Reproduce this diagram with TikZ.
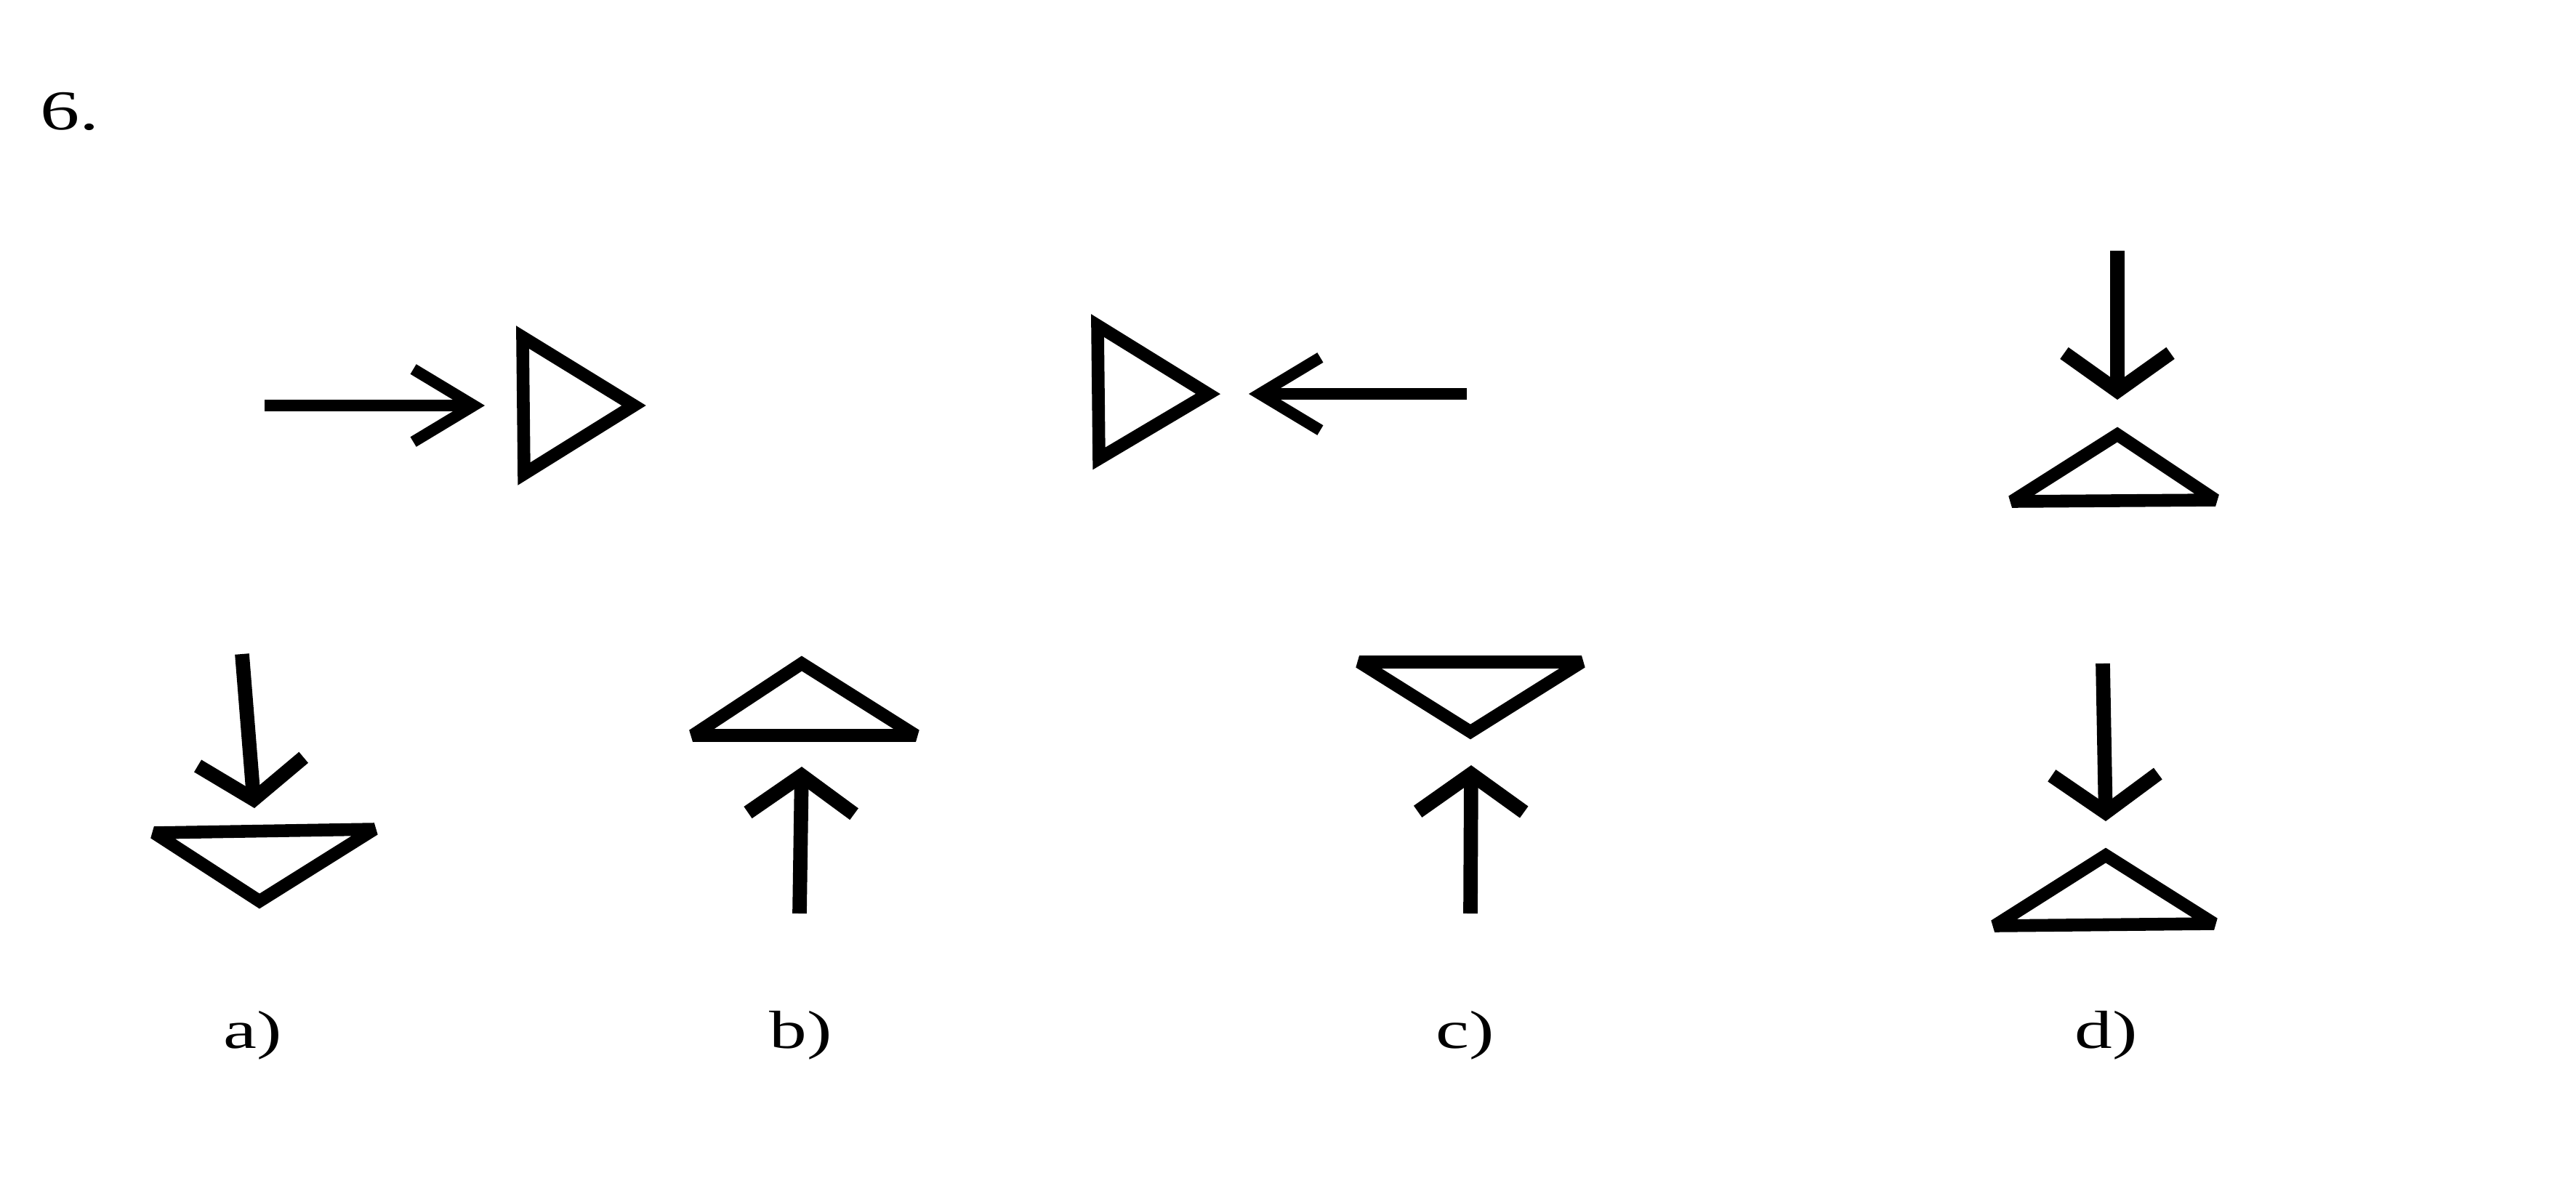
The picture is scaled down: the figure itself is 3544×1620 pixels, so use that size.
\documentclass[tikz,border=0pt]{standalone}
\usepackage{fontspec}
\setmainfont{Liberation Serif}
\usepackage{graphicx}
\usetikzlibrary{arrows.meta}

% the scan is stretched sideways, so is its lettering
\newcommand{\widetext}[1]{\scalebox{1.4}[1]{#1}}

\begin{document}
\begin{tikzpicture}[
    x=0.01cm, y=-0.01cm,
    tri/.style={draw=black, line width=5pt, line join=miter, miter limit=2.5},
    harrow/.style={line width=4.5pt, -{Straight Barb[length=8.3mm, width=10mm]}},
    varrow/.style={line width=5.6pt, -{Straight Barb[length=5.2mm, width=14.6mm]}},
    lbl/.style={font=\fontsize{21}{24}\selectfont, anchor=base, inner sep=0pt},
]
\useasboundingbox (0,0) rectangle (3544,1620);

% Task number
\node[lbl, anchor=base west, font=\fontsize{22}{26}\selectfont] (num) at (55,178) {\widetext{6.}};

% Top row: arrow into triangle from the left
\draw[harrow] (364,558) -- (667,558);
\draw[tri] (719,464) -- (721,652) -- (872,558) -- cycle;

% Top row: arrow into triangle from the right
\draw[tri] (1510,448) -- (1512,631) -- (1662,542) -- cycle;
\draw[harrow] (2018,542) -- (1718,542);

% Top row: arrow down onto triangle
\draw[varrow] (2913,345) -- (2913,550);
\draw[tri] (2913,598) -- (3048,688) -- (2768,690) -- cycle;

% Answer a)
\draw[varrow] (333,900) -- (350,1112);
\draw[tri] (212,1146) -- (515,1141) -- (357,1240) -- cycle;
\node[lbl] (ansa) at (348,1442) {\widetext{a)}};

% Answer b)
\draw[tri] (1103,913) -- (1260,1012) -- (953,1012) -- cycle;
\draw[varrow] (1100,1257) -- (1103,1055);
\node[lbl] (ansb) at (1102,1442) {\widetext{b)}};

% Answer c)
\draw[tri] (1870,911) -- (2176,911) -- (2023,1007) -- cycle;
\draw[varrow] (2023,1257) -- (2024,1053);
\node[lbl] (ansc) at (2016,1442) {\widetext{c)}};

% Answer d)
\draw[varrow] (2893,913) -- (2897,1130);
\draw[tri] (2897,1177) -- (3046,1271) -- (2744,1274) -- cycle;
\node[lbl] (ansd) at (2898,1442) {\widetext{d)}};
\end{tikzpicture}
\end{document}
